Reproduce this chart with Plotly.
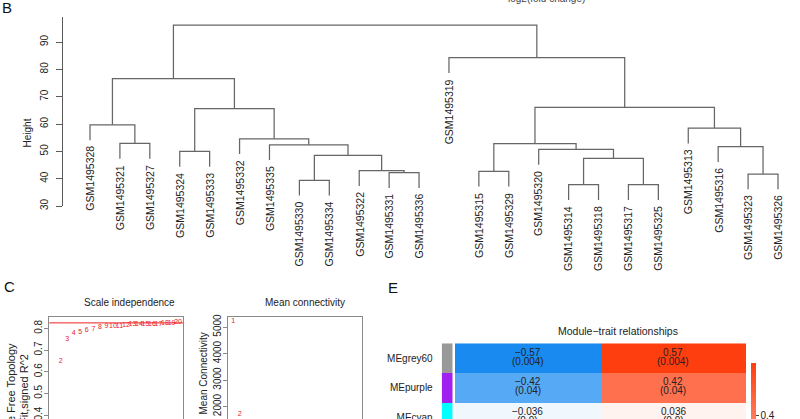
import plotly.graph_objects as go

W, H = 800, 419
FONT = "Liberation Sans, Arial, Helvetica, sans-serif"

# ---------------- Panel B: sample clustering dendrogram ----------------
leaf_labels = ["GSM1495328", "GSM1495321", "GSM1495327", "GSM1495324", "GSM1495333",
               "GSM1495332", "GSM1495335", "GSM1495330", "GSM1495334", "GSM1495322",
               "GSM1495331", "GSM1495336", "GSM1495319", "GSM1495315", "GSM1495329",
               "GSM1495320", "GSM1495314", "GSM1495318", "GSM1495317", "GSM1495325",
               "GSM1495313", "GSM1495316", "GSM1495323", "GSM1495326"]
# hclust-style merge table: negative = leaf (1-based, plotting order), positive = earlier merge
merge_left = [-17, -19, -8, -23, -11, -14, -10, 1, 3, -4, -16, -22, -7, 6, -2, -6, -21, -1,
              10, 14, 18, -13, 21]
merge_right = [-18, -20, -9, -24, -12, -15, 5, 2, 7, -5, 8, 4, 9, 11, -3, 13, 12, 15,
               16, 17, 19, 20, 22]
merge_height = [37.8, 37.8, 39.4, 41.7, 42.2, 42.7, 42.9, 47.4, 48.5, 50.0, 50.7, 51.7,
                52.4, 52.8, 52.9, 54.6, 58.5, 59.7, 65.6, 66.1, 76.6, 84.3, 96.2]
leaf_hang = 5.6
height_ticks = [30, 40, 50, 60, 70, 80, 90]

# ---------------- Panel C: soft threshold ----------------
soft_powers = [1, 2, 3, 4, 5, 6, 7, 8, 9, 10, 11, 12, 13, 14, 15, 16, 17, 18, 19, 20]
scale_free_r2 = [0.18, 0.646, 0.749, 0.778, 0.783, 0.792, 0.797, 0.804, 0.808, 0.811,
                 0.811, 0.813, 0.818, 0.818, 0.819, 0.820, 0.820, 0.821, 0.824, 0.827]
mean_connectivity = [5226, 1717, 760, 390, 225, 140, 93, 65, 47, 35, 27, 21, 17, 14,
                     11.5, 9.6, 8.1, 6.9, 5.9, 5.1]
r2_cutoff = 0.825
r2_ticks = [0.4, 0.5, 0.6, 0.7, 0.8]
k_ticks = [1000, 2000, 3000, 4000, 5000]

# ---------------- Panel E: module-trait heatmap ----------------
module_names = ["MEgrey60", "MEpurple", "MEcyan"]
module_colors = ["#999999", "#A020F0", "#00FFFF"]
trait_cor = [[-0.57, 0.57], [-0.42, 0.42], [-0.036, 0.036]]
trait_p = [["0.004", "0.004"], ["0.04", "0.04"], ["0.9", "0.9"]]
cb_ticks = [-0.4, -0.2, 0, 0.2, 0.4]


def fx(px):
    return px / W


def fy(py):
    return 1 - py / H


fig = go.Figure()
annotations = []
shapes = []

# ---- dendrogram geometry from merge table
n_leaf = len(leaf_labels)
leaf_x = list(range(1, n_leaf + 1))
leaf_end = [None] * n_leaf
node_x, node_h = [], []
seg_x, seg_y = [], []
for l, r, h in zip(merge_left, merge_right, merge_height):
    pts = []
    for c in (l, r):
        if c < 0:
            cx, ch = leaf_x[-c - 1], h - leaf_hang
            leaf_end[-c - 1] = ch
        else:
            cx, ch = node_x[c - 1], node_h[c - 1]
        pts.append((cx, ch))
    (xl, yl), (xr, yr) = pts
    seg_x += [xl, xl, xr, xr, None]
    seg_y += [yl, h, h, yr, None]
    node_x.append((xl + xr) / 2)
    node_h.append(h)

fig.add_trace(go.Scatter(x=seg_x, y=seg_y, mode="lines",
                         line=dict(color="#666666", width=1.25),
                         xaxis="x", yaxis="y", hoverinfo="skip", showlegend=False))
for i, lab in enumerate(leaf_labels):
    annotations.append(dict(x=leaf_x[i], y=leaf_end[i], xref="x", yref="y", text=lab,
                            textangle=-90, showarrow=False, xanchor="center",
                            yanchor="top", yshift=-4, font=dict(size=10.5, color="#222")))

# ---- scale independence / mean connectivity
fig.add_trace(go.Scatter(x=soft_powers, y=scale_free_r2, mode="text",
                         text=[str(p) for p in soft_powers],
                         textfont=dict(size=7, color="#e8202a"),
                         xaxis="x2", yaxis="y2", hoverinfo="skip", showlegend=False))
fig.add_trace(go.Scatter(x=soft_powers, y=mean_connectivity, mode="text",
                         text=[str(p) for p in soft_powers],
                         textfont=dict(size=7, color="#e8202a"),
                         xaxis="x3", yaxis="y3", hoverinfo="skip", showlegend=False))
shapes.append(dict(type="line", xref="x2 domain", yref="y2", x0=0, x1=1,
                   y0=r2_cutoff, y1=r2_cutoff, line=dict(color="#f02020", width=1)))

# ---- module-trait heatmap
zlim = max(abs(v) for row in trait_cor for v in row)
fig.add_trace(go.Heatmap(z=trait_cor, x=[0, 1], y=list(range(len(module_names))),
                         xaxis="x4", yaxis="y4", zmin=-zlim, zmax=zlim,
                         colorscale=[[0, "rgb(25,138,240)"], [0.5, "rgb(255,255,255)"],
                                     [1, "rgb(255,62,15)"]],
                         colorbar=dict(thickness=5.3, thicknessmode="pixels",
                                       len=353, lenmode="pixels",
                                       x=fx(750.7), xanchor="left", xpad=0,
                                       y=fy(363.3), yanchor="top", ypad=0,
                                       tickvals=cb_ticks, ticks="outside", ticklen=3,
                                       ticklabeloverflow="allow",
                                       tickfont=dict(size=10, color="#222"),
                                       outlinewidth=0),
                         hoverinfo="skip"))
n_mod = len(module_names)
side_scale = []
for i, c in enumerate(module_colors):
    side_scale += [[i / n_mod, c], [(i + 1) / n_mod, c]]
fig.add_trace(go.Heatmap(z=[[i] for i in range(n_mod)], x=[0], y=list(range(n_mod)),
                         xaxis="x5", yaxis="y4", zmin=-0.5, zmax=n_mod - 0.5,
                         colorscale=side_scale, showscale=False, hoverinfo="skip"))
for r in range(n_mod):
    for c in range(2):
        v = trait_cor[r][c]
        annotations.append(dict(x=c, y=r, xref="x4", yref="y4",
                                text=("\u2212" if v < 0 else "") + f"{abs(v):g}",
                                showarrow=False, yshift=6,
                                font=dict(size=10, color="#222")))
        annotations.append(dict(x=c, y=r, xref="x4", yref="y4",
                                text="(" + trait_p[r][c] + ")",
                                showarrow=False, yshift=-3,
                                font=dict(size=10, color="#222")))

# ---- free text
def txt(text, x, y, size=10, angle=0, xa="center", ya="middle", color="#222"):
    annotations.append(dict(text=text, x=x, y=y, xref="paper", yref="paper",
                            showarrow=False, textangle=angle, xanchor=xa, yanchor=ya,
                            font=dict(size=size, color=color)))

txt("log2(fold change)", fx(546), fy(-1.5), size=10, color="#444")
txt("B", fx(0), fy(7.7), size=15, xa="left", color="#111")
txt("C", fx(2), fy(286.7), size=15, xa="left", color="#111")
txt("E", fx(385.5), fy(287.5), size=15, xa="left", color="#111")
txt("Height", fx(27), fy(133.5), angle=-90)
txt("Scale independence", fx(129), fy(302))
txt("Mean connectivity", fx(305), fy(302))
txt("Scale Free Topology", fx(10), fy(341), size=11, angle=-90, ya="top")
txt("Model Fit,signed R^2", fx(23.5), fy(352), size=11, angle=-90, ya="top")
txt("Mean Connectivity", fx(202.5), fy(374), angle=-90)
txt("Module\u2212trait relationships", fx(618), fy(330.7), size=10.5)

# ---- axes
leaf_px0, leaf_dpx = 90.0, (778.0 - 90.0) / (n_leaf - 1)
b_left, b_right = 62.5, 790.0
b_xrange = [1 - (leaf_px0 - b_left) / leaf_dpx,
            n_leaf + (b_right - (leaf_px0 + (n_leaf - 1) * leaf_dpx)) / leaf_dpx]
b_py30, b_pxper10 = 206.0, 27.33
b_top = 16.7
b_yrange = [30, 30 + (b_py30 - b_top) / b_pxper10 * 10]

c_top = 316.7
r2_py08, r2_pxper01 = 328.3, 21.7
r2_range = [0.8 - (H - r2_py08) / r2_pxper01 * 0.1, 0.8 + (r2_py08 - c_top) / r2_pxper01 * 0.1]
k_py5000, k_pxper1000 = 327.0, 26.5
k_range = [5000 - (H - k_py5000) / k_pxper1000 * 1000, 5000 + (k_py5000 - c_top) / k_pxper1000 * 1000]
pow_range = [0.24, 20.76]

e_top, e_rowpx = 343.3, 29.7
e_yrange = [-0.5 + (H - e_top) / e_rowpx, -0.5]

box = "#8a8a8a"
axcol = "#5a5a5a"
common_y = dict(showgrid=False, zeroline=False, ticks="outside", tickangle=-90,
                tickfont=dict(size=10, color="#222"), showline=True, linewidth=1,
                ticklabeloverflow="allow")

fig.update_layout(
    width=W, height=H, autosize=False,
    margin=dict(l=0, r=0, t=0, b=0, pad=0, autoexpand=False),
    paper_bgcolor="white", plot_bgcolor="white",
    font=dict(family=FONT, size=10, color="#222"),
    hovermode=False, showlegend=False,
    xaxis=dict(domain=[fx(b_left), fx(b_right)], range=b_xrange, visible=False, anchor="y"),
    yaxis=dict(domain=[fy(b_py30), fy(b_top)], range=b_yrange, tickvals=height_ticks,
               ticklen=5.5, tickcolor=axcol, linecolor=axcol, anchor="x",
               ticklabelstandoff=4, **common_y),
    xaxis2=dict(domain=[fx(49.3), fx(183)], range=pow_range, side="top", showline=True,
                linecolor=box, linewidth=1, showticklabels=False, ticks="",
                showgrid=False, zeroline=False, anchor="y2"),
    yaxis2=dict(domain=[0, fy(c_top)], range=r2_range, tickvals=r2_ticks, ticklen=4.5,
                tickcolor=box, linecolor=box, mirror=True, anchor="x2",
                ticklabelstandoff=-2, **common_y),
    xaxis3=dict(domain=[fx(228.3), fx(361.7)], range=pow_range, side="top", showline=True,
                linecolor=box, linewidth=1, showticklabels=False, ticks="",
                showgrid=False, zeroline=False, anchor="y3"),
    yaxis3=dict(domain=[0, fy(c_top)], range=k_range, tickvals=k_ticks, ticklen=4.5,
                tickcolor=box, linecolor=box, mirror=True, anchor="x3",
                ticklabelstandoff=-2, **common_y),
    xaxis4=dict(domain=[fx(455), fx(746)], range=[-0.5, 1.5], visible=False, anchor="y4"),
    yaxis4=dict(domain=[0, fy(e_top)], range=e_yrange, tickvals=list(range(n_mod)),
                ticktext=module_names, ticks="", showline=False, showgrid=False,
                zeroline=False, anchor="x5", ticklabelstandoff=8,
                ticklabeloverflow="allow",
                tickfont=dict(size=10, color="#222")),
    xaxis5=dict(domain=[fx(441.7), fx(452.7)], range=[-0.5, 0.5], visible=False, anchor="y4"),
    annotations=annotations,
    shapes=shapes,
)

fig.write_html("out.html",
               config={"displayModeBar": False, "staticPlot": True},
               post_script="document.body.style.margin='0px';"
                           "document.body.style.overflow='hidden';")
